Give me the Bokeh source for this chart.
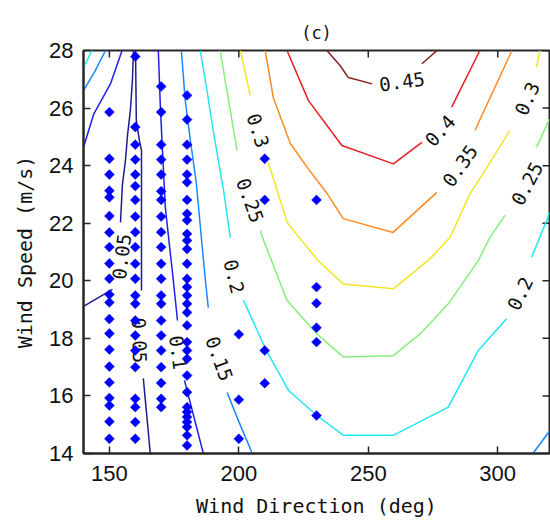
import math
from bokeh.plotting import figure
from bokeh.models import FixedTicker
from bokeh.core.properties import value
from bokeh.embed import file_html
from bokeh.resources import INLINE

# ---------------- data ----------------
x_ticks = [150, 200, 250, 300]
y_ticks = [14, 16, 18, 20, 22, 24, 26, 28]
x_lo, x_hi = 140, 320
y_lo, y_hi = 14, 28

# measurement points: wind speed per wind-direction column
speed_150 = [25.86, 24.24, 23.69, 23.13, 22.9, 22.25, 21.68, 21.17, 20.6, 20.07, 19.52,
             19.25, 18.67, 18.17, 17.61, 17.02, 16.47, 15.93, 15.67, 15.11, 14.51]
speed_160 = [27.79, 25.34, 24.73, 24.21, 23.69, 23.29, 22.81, 22.23, 21.69, 21.17, 20.59,
             20.07, 19.49, 19.2, 18.62, 18.1, 17.58, 17.0, 15.9, 15.61, 15.09, 14.51]
speed_170 = [26.75, 25.86, 24.73, 24.21, 23.69, 23.11, 22.81, 22.23, 21.69, 21.17, 20.59,
             20.07, 19.49, 19.2, 18.62, 18.1, 17.58, 17.0, 16.45, 15.9, 15.61]
speed_180 = [26.44, 25.6, 24.73, 24.21, 23.69, 23.42, 22.81, 22.33, 22.1, 21.63, 21.4, 21.1,
             20.59, 20.07, 19.78, 19.49, 19.2, 18.9, 18.45, 17.87, 17.58, 17.29, 16.71,
             16.13, 15.61, 15.44, 15.27, 15.09, 14.92, 14.63, 14.28]
speed_200 = [18.14, 15.87, 14.51]
speed_210 = [24.24, 22.81, 17.58, 16.44]
speed_230 = [22.81, 19.78, 19.22, 18.37, 17.87, 15.32]
point_dirs = [150, 160, 170, 180, 200, 210, 230]

# contour levels and their (jet) colours
levels = [0.05, 0.10, 0.15, 0.20, 0.25, 0.30, 0.35, 0.40, 0.45]
level_colors = ["#1c1c8e", "#1f1fe6", "#1c86ff", "#22e6f2", "#86ee7c",
                "#f2e624", "#ff8a22", "#e81e22", "#86201e"]

# contour line pieces (wind direction, wind speed), broken where labels sit
c05_x = [[140.0, 151.2], [154.3, 155.0, 156.2, 157.0, 158.1, 158.9, 159.3],
         [160.1, 160.4, 161.6, 162.4, 162.4], [163.1, 165.8]]
c05_y = [[19.11, 19.70], [22.03, 23.31, 24.18, 25.05, 25.92, 26.96, 28.0],
         [28.0, 25.57, 24.87, 24.53, 19.66], [16.61, 14.0]]

c10_x = [[154.9, 150.4, 144.0, 140.0], [168.9, 169.7, 170.5, 171.6, 173.2, 174.7, 176.3],
         [179.0, 186.3]]
c10_y = [[28.0, 26.84, 25.8, 24.64], [28.0, 26.02, 24.53, 22.55, 21.23, 20.01, 18.62],
         [16.54, 14.0]]

c15_x = [[148.5, 144.6, 140.0], [177.8, 179.3, 181.3, 183.6, 185.8, 187.1, 188.2],
         [195.5, 199.8, 205.2], [313.6, 320.0]]
c15_y = [[28.0, 27.31, 26.61], [28.0, 26.26, 24.87, 23.38, 21.23, 20.01, 19.07],
         [16.12, 15.15, 14.0], [14.0, 14.78]]

c20_x = [[143.3, 140.0], [185.1, 187.7, 190.3, 194.1, 196.7],
         [201.8, 210.6, 219.2, 230.2, 240.4, 259.7, 280.9, 292.5, 303.4],
         [313.1, 318.9, 320.0]]
c20_y = [[28.0, 27.42], [28.0, 26.61, 25.11, 23.14, 21.50],
         [19.32, 17.58, 16.19, 15.32, 14.63, 14.63, 15.61, 17.58, 18.68],
         [20.82, 22.09, 22.38]]

c25_x = [[192.8, 195.4, 199.3],
         [208.3, 209.6, 218.6, 230.1, 240.4, 259.7, 270.7, 280.9, 292.5, 297.0, 302.8],
         [315.0, 320.0]]
c25_y = [[28.0, 26.61, 24.53],
         [21.75, 21.40, 19.32, 18.16, 17.35, 17.40, 18.21, 19.20, 20.70, 21.51, 22.27],
         [24.64, 25.62]]

c30_x = [[200.6, 204.4],
         [211.4, 218.7, 230.6, 240.4, 259.7, 273.9, 281.6, 289.3, 295.8, 304.7],
         [315.0, 316.3]]
c30_y = [[28.0, 26.44],
         [24.11, 22.02, 20.70, 19.89, 19.72, 20.77, 21.51, 23.02, 23.93, 25.22],
         [27.42, 28.0]]

c35_x = [[210.2, 213.3, 219.9, 226.4, 234.1, 240.3, 259.6, 276.5], [291.2, 305.5]]
c35_y = [[28.0, 26.37, 24.77, 23.94, 23.03, 22.16, 21.68, 23.07], [25.22, 28.0]]

c40_x = [[218.6, 226.9, 239.8, 259.7, 270.7], [282.2, 293.1]]
c40_y = [[28.0, 26.26, 24.70, 24.06, 24.81], [26.03, 28.0]]

c45_x = [[234.0, 239.1, 242.3, 251.5], [270.7, 276.6]]
c45_y = [[28.0, 27.48, 27.06, 26.84], [27.54, 28.0]]

# inline contour labels
label_text = ["0.05", "0.05", "0.1", "0.15", "0.2", "0.25", "0.3",
              "0.45", "0.4", "0.35", "0.3", "0.25", "0.2"]
label_dir = [154.7, 161.6, 176.6, 192.5, 198.2, 204.4, 207.5,
             263.0, 277.7, 285.4, 311.3, 311.3, 308.6]
label_speed = [20.84, 17.93, 17.51, 17.30, 20.15, 22.79, 25.22,
               26.92, 25.22, 24.0, 26.33, 23.38, 19.56]
label_angle = [83, -88, -82, -70, -76, -70, -72, 8, 48, 55, 66, 62, 64]

# ---------------- figure ----------------
p = figure(width=550, height=522, x_range=(x_lo, x_hi), y_range=(y_lo, y_hi),
           output_backend="svg", toolbar_location=None, title="(c)",
           min_border_left=83, min_border_right=1, min_border_top=50,
           min_border_bottom=69)
p.title.align = "center"
p.title.text_font = "DejaVu Sans Mono"
p.title.text_font_size = "17px"
p.title.text_font_style = "normal"
p.title.text_color = "#111111"
p.title.standoff = 15
p.grid.visible = False
p.outline_line_color = "#262626"
p.outline_line_width = 2
p.background_fill_color = "white"
p.border_fill_color = "white"

for ax, ticks in ((p.xaxis[0], x_ticks), (p.yaxis[0], y_ticks)):
    ax.ticker = FixedTicker(ticks=ticks)
    ax.major_tick_in = 7
    ax.major_tick_out = 0
    ax.minor_tick_line_color = None
    ax.major_tick_line_color = "#262626"
    ax.major_tick_line_width = 1.5
    ax.axis_line_color = "#262626"
    ax.axis_line_width = 2
    ax.major_label_text_font = "Liberation Sans"
    ax.major_label_text_font_size = "22px"
    ax.major_label_text_color = "#111111"
    ax.axis_label_text_font = "DejaVu Sans Mono"
    ax.axis_label_text_font_size = "20px"
    ax.axis_label_text_font_style = "normal"
    ax.axis_label_text_color = "#111111"

p.xaxis[0].axis_label = "Wind Direction (deg)"
p.yaxis[0].axis_label = "Wind Speed (m/s)"
p.xaxis[0].major_label_standoff = 12
p.xaxis[0].axis_label_standoff = 10
p.yaxis[0].major_label_standoff = 10
p.yaxis[0].axis_label_standoff = 9

# inward ticks on the top and right edges of the box
p.ray(x=x_ticks, y=[y_hi] * len(x_ticks), length=7, length_units="screen",
      angle=-math.pi / 2, line_color="#262626", line_width=1.5)
p.ray(x=[x_hi] * len(y_ticks), y=y_ticks, length=7, length_units="screen",
      angle=math.pi, line_color="#262626", line_width=1.5)

# contour lines
all_x = [c05_x, c10_x, c15_x, c20_x, c25_x, c30_x, c35_x, c40_x, c45_x]
all_y = [c05_y, c10_y, c15_y, c20_y, c25_y, c30_y, c35_y, c40_y, c45_y]
for xs, ys, col in zip(all_x, all_y, level_colors):
    p.multi_line(xs, ys, line_color=col, line_width=1.5)

# labels
p.text(x=label_dir, y=label_speed, text=label_text,
       angle=[math.radians(a) for a in label_angle],
       text_font=value("DejaVu Sans Mono"), text_font_size="19px",
       text_color="#111111", text_align="center", text_baseline="middle")

# measurement points
speeds = [speed_150, speed_160, speed_170, speed_180, speed_200, speed_210, speed_230]
px, py = [], []
for d, s in zip(point_dirs, speeds):
    px += [d] * len(s)
    py += s
p.scatter(px, py, marker="square", angle=math.pi / 4, size=7,
          fill_color="#0000ff", line_color="#0000ff", line_width=0.5)

open("out.html", "w").write(file_html(p, INLINE))
